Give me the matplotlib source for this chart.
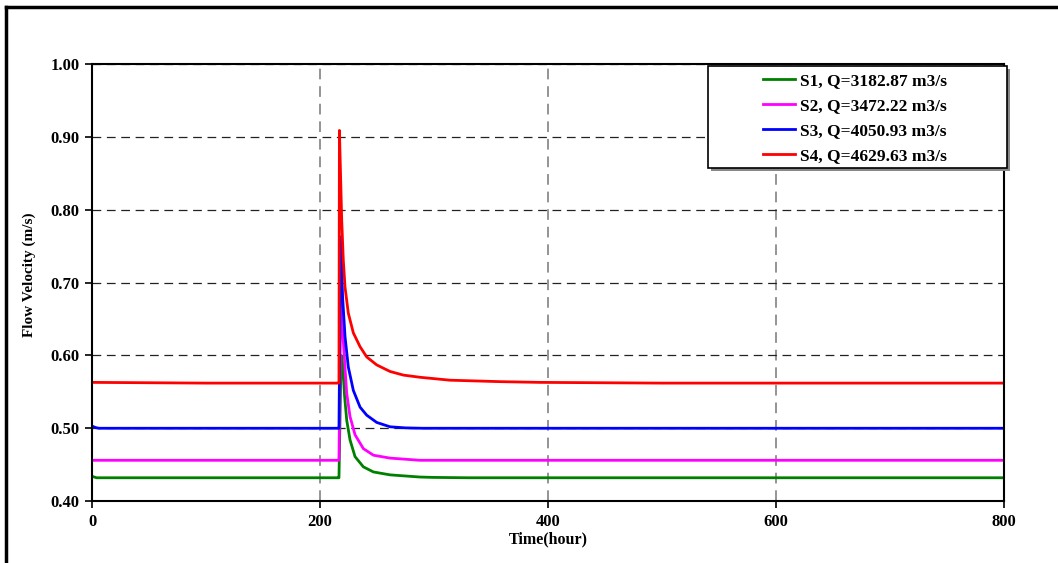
import matplotlib.pyplot as plt
from matplotlib.patches import Rectangle
from matplotlib.lines import Line2D

plt.rcParams['font.family'] = ['Liberation Serif', 'DejaVu Serif']
plt.rcParams['font.weight'] = 'bold'

# values, one time axis per scenario
t1 = [0, 4, 10, 216.3, 216.6, 218.5, 219.8, 221.5, 223.4, 226.3, 230.7, 238, 246.8, 261.4, 270, 287.7, 299, 330, 400, 600, 800]
s1 = [0.434, 0.432, 0.432, 0.432, 0.432, 0.600, 0.589, 0.545, 0.511, 0.484, 0.461, 0.447, 0.440, 0.436, 0.435, 0.433, 0.4325, 0.432, 0.432, 0.432, 0.432]

t2 = [0, 10, 216.3, 216.6, 218.2, 220.4, 222, 223.4, 226.3, 230.7, 238, 246.8, 261.4, 287.7, 330, 400, 600, 800]
s2 = [0.456, 0.456, 0.456, 0.456, 0.680, 0.620, 0.580, 0.548, 0.516, 0.491, 0.472, 0.463, 0.459, 0.456, 0.456, 0.456, 0.456, 0.456]

t3 = [0, 3, 6, 216.3, 216.6, 218.1, 219.8, 221.9, 224.8, 229.2, 235.1, 240.9, 249.7, 261.4, 275, 290, 330, 400, 600, 800]
s3 = [0.503, 0.501, 0.500, 0.500, 0.500, 0.763, 0.680, 0.626, 0.584, 0.552, 0.529, 0.518, 0.508, 0.502, 0.5005, 0.500, 0.500, 0.500, 0.500, 0.500]

t4 = [0, 100, 216.3, 216.6, 217.0, 219.0, 220.4, 221.9, 224.8, 229.2, 235.1, 240.9, 249.7, 261.4, 273.1, 287.7, 314, 358, 393, 500, 800]
s4 = [0.563, 0.562, 0.562, 0.562, 0.909, 0.786, 0.731, 0.694, 0.658, 0.631, 0.612, 0.598, 0.587, 0.578, 0.573, 0.570, 0.566, 0.564, 0.563, 0.562, 0.562]

labels = ['S1, Q=3182.87 m3/s', 'S2, Q=3472.22 m3/s',
          'S3, Q=4050.93 m3/s', 'S4, Q=4629.63 m3/s']
colors = ['#008000', '#ff00ff', '#0000ff', '#ff0000']

fig = plt.figure(figsize=(10.58, 5.63), dpi=100)
ax = fig.add_axes([0.087, 0.110, 0.862, 0.776])

for tt, y, lab, c in zip([t1, t2, t3, t4], [s1, s2, s3, s4], labels, colors):
    ax.plot(tt, y, color=c, lw=2, label=lab)

ax.set_xlim(0, 800)
ax.set_ylim(0.4, 1.0)
ax.set_xticks([0, 200, 400, 600, 800])
ax.set_yticks([0.4, 0.5, 0.6, 0.7, 0.8, 0.9, 1.0])
ax.set_yticklabels(['%.2f' % v for v in ax.get_yticks()])
ax.xaxis.grid(True, color='#777777', linestyle=(0, (7, 4.5)), lw=1.1)
ax.yaxis.grid(True, color='#222222', linestyle=(0, (7, 4.5)), lw=0.9)
ax.tick_params(labelsize=12, length=5, width=1.2, pad=4)
for sp in ax.spines.values():
    sp.set_linewidth(1.5)

ax.set_xlabel('Time(hour)', fontsize=11.5, fontweight='bold', labelpad=1)
ax.set_ylabel('Flow Velocity (m/s)', fontsize=11, fontweight='bold')
ax.yaxis.set_label_coords(-0.061, 0.518)

# legend box with a drop shadow, drawn by hand so it matches the wide frame
ax.add_patch(Rectangle((0.6754 + 0.0035, 0.762 - 0.007), 0.3278, 0.2335, transform=ax.transAxes,
                       facecolor='#888888', edgecolor='none', clip_on=False, zorder=5))
ax.add_patch(Rectangle((0.6754, 0.762), 0.3278, 0.2335, transform=ax.transAxes,
                       facecolor='white', edgecolor='black', lw=1.2, clip_on=False, zorder=5.1))
leg = ax.legend(loc='upper left', bbox_to_anchor=(0.736, 0.981), fontsize=12.5,
                frameon=False, borderpad=0, borderaxespad=0,
                handlelength=1.8, handletextpad=0.3, labelspacing=0.51)
leg.set_zorder(6)

# outer frame (top and left only)
fig.add_artist(Line2D([0.0057, 1.0], [0.9876, 0.9876], transform=fig.transFigure, color='black', lw=2.5))
fig.add_artist(Line2D([0.0057, 0.0057], [0.0, 0.9876], transform=fig.transFigure, color='black', lw=2.5))

fig.savefig('out.png', dpi=100)
